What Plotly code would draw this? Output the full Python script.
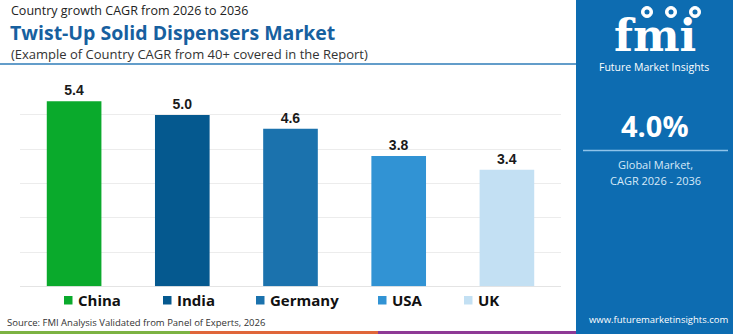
import plotly.graph_objects as go

# Country CAGR values, 2026-2036
countries = ["China", "India", "Germany", "USA", "UK"]
cagr = [5.4, 5.0, 4.6, 3.8, 3.4]
colors = ["#0aaa2c", "#05598f", "#1b72ad", "#3193d4", "#c3e0f3"]
global_cagr = "4.0%"

W, H = 750, 334
FONT = "Open Sans"


def px_x(x):
    return x / W


def px_y(y):
    return 1 - y / H


fig = go.Figure()
fig.add_trace(go.Bar(
    x=countries,
    y=cagr,
    marker=dict(color=colors, line=dict(width=0)),
    width=0.505,
    text=[f"{v:.1f}" for v in cagr],
    textposition="outside",
    textfont=dict(family="Liberation Sans", size=14, color="#1a1a1a"),
    texttemplate="<b>%{text}</b>",
    cliponaxis=False,
    showlegend=False,
    hoverinfo="skip",
))

shapes = []
annotations = []

# right-hand brand panel
shapes.append(dict(type="rect", xref="paper", yref="paper",
                   x0=px_x(576), x1=px_x(733), y0=0, y1=1,
                   fillcolor="#0d6cb1", line=dict(width=0), layer="below"))
shapes.append(dict(type="line", xref="paper", yref="paper",
                   x0=px_x(583), x1=px_x(728), y0=px_y(150.5), y1=px_y(150.5),
                   line=dict(color="#8fc3ea", width=1.5)))

# small globe badges over the logo
for cx in [647, 671, 695]:
    shapes.append(dict(type="circle", xref="paper", yref="paper",
                       x0=px_x(cx - 5.5), x1=px_x(cx + 5.5), y0=px_y(17.5), y1=px_y(6.5),
                       fillcolor="#ffffff", line=dict(color="#ffffff", width=1)))
    shapes.append(dict(type="circle", xref="paper", yref="paper",
                       x0=px_x(cx - 2.5), x1=px_x(cx + 2.5), y0=px_y(14.5), y1=px_y(9.5),
                       fillcolor="#0d6cb1", line=dict(width=0)))

# header rule under the titles
shapes.append(dict(type="line", xref="paper", yref="paper",
                   x0=0, x1=px_x(576), y0=px_y(64), y1=px_y(64),
                   line=dict(color="#2f7db9", width=1.5)))

# coloured footer strips
for x0, x1, c in [(0, 190, "#7cb342"), (190, 378, "#e0663a"), (378, 576, "#8e3a96")]:
    shapes.append(dict(type="rect", xref="paper", yref="paper",
                       x0=px_x(x0), x1=px_x(x1), y0=0, y1=px_y(331),
                       fillcolor=c, line=dict(width=0)))

# legend built from the category list
legend_x = [64, 163, 256, 378, 464]
for name, col, lx in zip(countries, colors, legend_x):
    shapes.append(dict(type="rect", xref="paper", yref="paper",
                       x0=px_x(lx), x1=px_x(lx + 8.5), y0=px_y(304.5), y1=px_y(296),
                       fillcolor=col, line=dict(width=0)))
    annotations.append(dict(xref="paper", yref="paper", x=px_x(lx + 12), y=px_y(300),
                            text=f"<b>{name}</b>", showarrow=False,
                            xanchor="left", yanchor="middle",
                            font=dict(family=FONT, size=15, color="#111111")))

# titles
annotations += [
    dict(xref="paper", yref="paper", x=px_x(9), y=px_y(11), text="Country growth CAGR from 2026 to 2036",
         showarrow=False, xanchor="left", yanchor="middle",
         font=dict(family=FONT, size=12.5, color="#222222")),
    dict(xref="paper", yref="paper", x=px_x(8), y=px_y(32.5), text="<b>Twist-Up Solid Dispensers Market</b>",
         showarrow=False, xanchor="left", yanchor="middle",
         font=dict(family=FONT, size=19.5, color="#17609f")),
    dict(xref="paper", yref="paper", x=px_x(9), y=px_y(53.5),
         text="(Example of Country CAGR from 40+ covered in the Report)",
         showarrow=False, xanchor="left", yanchor="middle",
         font=dict(family=FONT, size=13, color="#333333")),
    dict(xref="paper", yref="paper", x=px_x(5), y=px_y(322),
         text="Source: FMI Analysis Validated from Panel of Experts, 2026",
         showarrow=False, xanchor="left", yanchor="middle",
         font=dict(family=FONT, size=9.5, color="#333333")),
]

# panel texts
annotations += [
    dict(xref="paper", yref="paper", x=px_x(655), y=px_y(36), text="<b>fmi</b>",
         showarrow=False, xanchor="center", yanchor="middle",
         font=dict(family="DejaVu Serif", size=44, color="#ffffff")),
    dict(xref="paper", yref="paper", x=px_x(654), y=px_y(67), text="Future Market Insights",
         showarrow=False, xanchor="center", yanchor="middle",
         font=dict(family=FONT, size=10.5, color="#ffffff")),
    dict(xref="paper", yref="paper", x=px_x(655), y=px_y(126), text=f"<b>{global_cagr}</b>",
         showarrow=False, xanchor="center", yanchor="middle",
         font=dict(family=FONT, size=29, color="#ffffff")),
    dict(xref="paper", yref="paper", x=px_x(655), y=px_y(164), text="Global Market,",
         showarrow=False, xanchor="center", yanchor="middle",
         font=dict(family=FONT, size=11, color="#d6e9f8")),
    dict(xref="paper", yref="paper", x=px_x(655), y=px_y(180), text="CAGR 2026 - 2036",
         showarrow=False, xanchor="center", yanchor="middle",
         font=dict(family=FONT, size=11, color="#d6e9f8")),
    dict(xref="paper", yref="paper", x=px_x(659), y=px_y(319), text="www.futuremarketinsights.com",
         showarrow=False, xanchor="center", yanchor="middle",
         font=dict(family=FONT, size=9.5, color="#ffffff")),
]

fig.update_layout(
    width=W, height=H,
    margin=dict(l=0, r=0, t=0, b=0),
    paper_bgcolor="#ffffff",
    plot_bgcolor="#ffffff",
    shapes=shapes,
    annotations=annotations,
    bargap=0.5,
    xaxis=dict(domain=[px_x(20), px_x(561)], showticklabels=False, showgrid=False,
               zeroline=False, showline=False, fixedrange=True),
    yaxis=dict(domain=[px_y(286.3), px_y(80.7)], range=[0, 6], dtick=1,
               showticklabels=False, showgrid=True, gridcolor="#ececec", gridwidth=1,
               zeroline=True, zerolinecolor="#e4e4e4", zerolinewidth=1,
               showline=False, fixedrange=True),
)

fig.write_html("out.html")
